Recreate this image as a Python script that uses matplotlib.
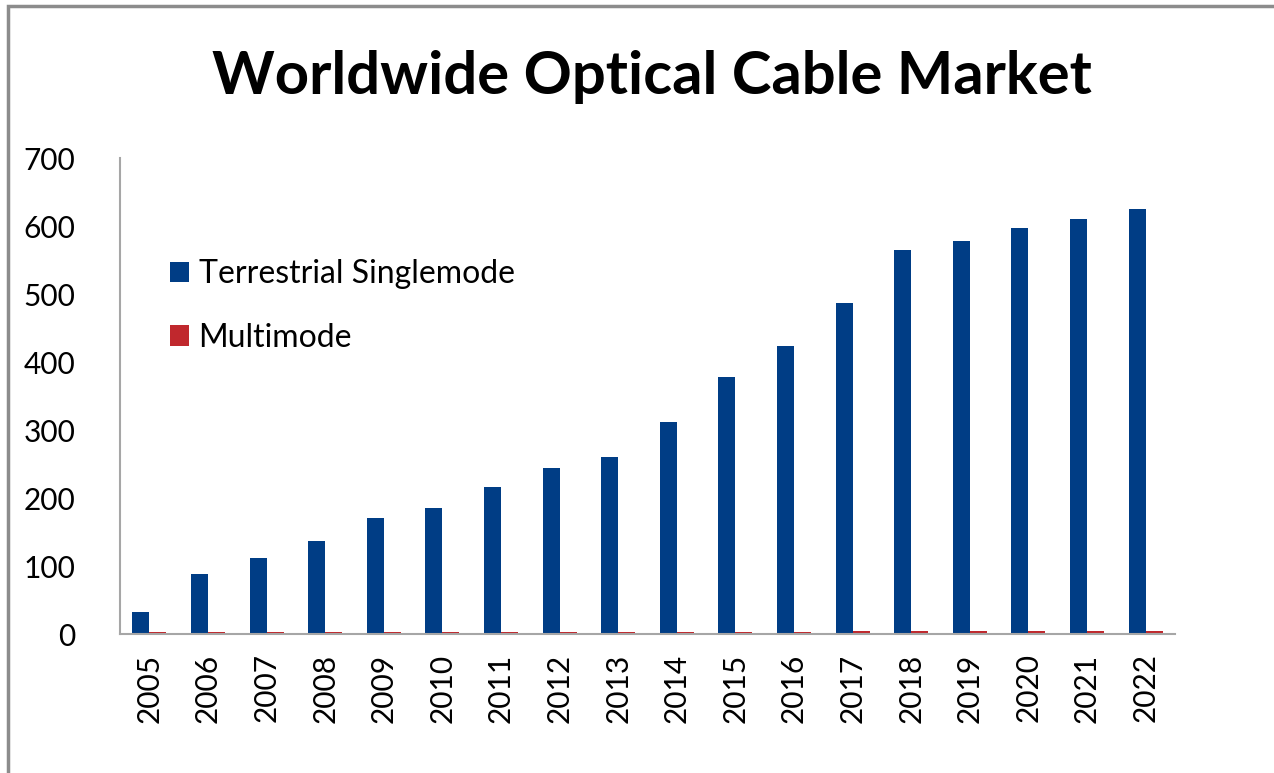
import matplotlib.pyplot as plt
import numpy as np
from matplotlib.patches import Rectangle

years = [str(y) for y in range(2005, 2023)]
singlemode = [32, 88, 112, 137, 171, 185, 216, 244, 260, 312, 378, 424, 487, 565, 578, 597, 610, 625]
multimode = [3, 3, 3, 3, 3, 3, 3, 3, 3, 3, 3, 3, 5, 5, 5, 5, 5, 5]

plt.rcParams['font.family'] = ['Lato', 'DejaVu Sans']

fig = plt.figure(figsize=(12.74, 7.73), dpi=100)
# outer chart frame
fig.patches.append(Rectangle((8 / 1274, -0.05), 1.2, 1.05 - 6 / 773,
                             transform=fig.transFigure, fill=False,
                             edgecolor='#8c8c8c', linewidth=2.5))

ax = fig.add_axes([120 / 1274, 1 - 634 / 773, 1055 / 1274, 476 / 773])
x = np.arange(len(years))
w = 0.29
ax.bar(x - w / 2, singlemode, w, color='#003d85', label='Terrestrial Singlemode')
ax.bar(x + w / 2, multimode, w, color='#c0282d', label='Multimode')

ax.set_xlim(-0.5, len(years) - 0.5)
ax.set_ylim(0, 700)
ax.set_yticks(range(0, 701, 100))
ax.set_xticks(x)
ax.set_xticklabels(years, rotation=90)
ax.tick_params(axis='both', length=0, labelsize=21.5, colors='black')
ax.tick_params(axis='y', pad=32)
ax.tick_params(axis='x', pad=14)
for side in ['top', 'right']:
    ax.spines[side].set_visible(False)
for side in ['left', 'bottom']:
    ax.spines[side].set_color('#a6a6a6')
    ax.spines[side].set_linewidth(1.5)

ax.legend(loc='upper left', bbox_to_anchor=(0.02, 0.848), frameon=False,
          fontsize=23, handlelength=0.6, handleheight=0.6, handletextpad=0.3,
          labelspacing=1.05)

fig.text(0.512, 1 - 77 / 773, 'Worldwide Optical Cable Market', ha='center', va='center',
         fontsize=43, fontweight='bold')

fig.savefig('out.png', dpi=100)
